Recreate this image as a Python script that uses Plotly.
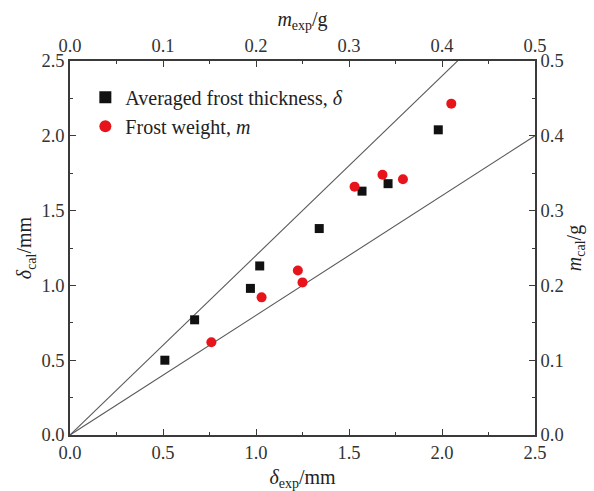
import plotly.graph_objects as go

# Averaged frost thickness: experimental vs calculated (mm)
delta_exp = [0.51, 0.67, 0.97, 1.02, 1.34, 1.57, 1.71, 1.98]
delta_cal = [0.50, 0.77, 0.98, 1.13, 1.38, 1.63, 1.68, 2.04]

# Frost weight: experimental vs calculated (g)
m_exp = [0.152, 0.206, 0.245, 0.250, 0.306, 0.336, 0.358, 0.410]
m_cal = [0.124, 0.184, 0.220, 0.204, 0.332, 0.348, 0.342, 0.443]

# +/-20 % error bands through the origin
band_slopes = [1.2, 0.8]
band_x = [0.0, 2.5]

FONT = "Liberation Serif"
AXIS_COLOR = "#3a3a3a"

fig = go.Figure()

for s in band_slopes:
    fig.add_trace(go.Scatter(
        x=band_x, y=[s * v for v in band_x], mode="lines",
        line=dict(color="#5a5a5a", width=1.1), showlegend=False,
        hoverinfo="skip", cliponaxis=True,
    ))

fig.add_trace(go.Scatter(
    x=delta_exp, y=delta_cal, mode="markers",
    name="Averaged frost thickness, <i>δ</i>",
    marker=dict(symbol="square", size=9, color="#111111"),
))

fig.add_trace(go.Scatter(
    x=m_exp, y=m_cal, mode="markers", xaxis="x2", yaxis="y2",
    name="Frost weight, <i>m</i>",
    marker=dict(symbol="circle", size=10, color="#e8141c"),
))

tick_font = dict(family=FONT, size=18.5, color="#333333")
title_font = dict(family=FONT, size=20, color="#222222")

common = dict(
    showline=True, linecolor=AXIS_COLOR, linewidth=1.6,
    ticks="inside", ticklen=6, tickwidth=1.2, tickcolor=AXIS_COLOR,
    showgrid=False, zeroline=False, tickfont=tick_font, automargin=False,
)

fig.update_layout(
    width=594, height=491,
    margin=dict(l=70, r=59, t=61, b=56),
    paper_bgcolor="white", plot_bgcolor="white",
    font=dict(family=FONT),
    xaxis=dict(
        range=[0, 2.5], dtick=0.5, tickformat=".1f",
        minor=dict(ticks="inside", ticklen=3.5, dtick=0.25, tickcolor=AXIS_COLOR),
        title=dict(text="<i>δ</i><sub>exp</sub>/mm", font=title_font, standoff=12),
        **common,
    ),
    yaxis=dict(
        range=[0, 2.5], dtick=0.5, tickformat=".1f",
        minor=dict(ticks="inside", ticklen=3.5, dtick=0.25, tickcolor=AXIS_COLOR),
        title=dict(text="<i>δ</i><sub>cal</sub>/mm", font=title_font, standoff=4),
        **common,
    ),
    xaxis2=dict(
        range=[0, 0.5], dtick=0.1, tickformat=".1f", overlaying="x", side="top",
        minor=dict(ticks="inside", ticklen=3.5, dtick=0.05, tickcolor=AXIS_COLOR),
        title=dict(text="<i>m</i><sub>exp</sub>/g", font=title_font, standoff=4),
        **common,
    ),
    yaxis2=dict(
        range=[0, 0.5], dtick=0.1, tickformat=".1f", overlaying="y", side="right",
        minor=dict(ticks="inside", ticklen=3.5, dtick=0.05, tickcolor=AXIS_COLOR),
        title=dict(text="<i>m</i><sub>cal</sub>/g", font=title_font, standoff=4),
        **common,
    ),
    legend=dict(
        x=0.033, y=0.955, xanchor="left", yanchor="top",
        bgcolor="rgba(0,0,0,0)", font=dict(family=FONT, size=20, color="#222222"),
        tracegroupgap=0, itemsizing="constant",
    ),
    showlegend=True,
)

fig.write_html("out.html")
